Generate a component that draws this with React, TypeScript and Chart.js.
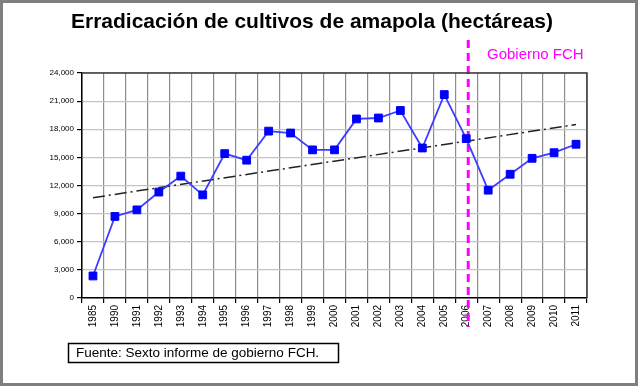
import React, { useEffect, useRef } from "react";
import { Chart, registerables } from "chart.js";

Chart.register(...registerables);

const years = [
  "1985", "1990", "1991", "1992", "1993", "1994", "1995", "1996", "1997", "1998", "1999",
  "2000", "2001", "2002", "2003", "2004", "2005", "2006", "2007", "2008", "2009", "2010", "2011",
];
const hectareas = [
  2350, 8700, 9400, 11300, 13000, 11000, 15400, 14700, 17800, 17600, 15800,
  15800, 19100, 19200, 20000, 16000, 21700, 17000, 11500, 13200, 14900, 15500, 16400,
];
const trendStart = 10700;
const trendEnd = 18500;
const yTicks = [0, 3000, 6000, 9000, 12000, 15000, 18000, 21000, 24000];
const titleText = "Erradicación de cultivos de amapola (hectáreas)";
const govLabel = "Gobierno FCH";
const govStartYear = "2006";
const sourceText = "Fuente: Sexto informe de gobierno FCH.";

const FONT = "'Liberation Sans', Arial, sans-serif";

const decorPlugin = {
  id: "decor",
  beforeDraw(chart: any) {
    const ctx = chart.ctx;
    ctx.save();
    ctx.fillStyle = "#ffffff";
    ctx.fillRect(0, 0, chart.width, chart.height);
    ctx.restore();
  },
  beforeDatasetsDraw(chart: any) {
    const ctx = chart.ctx;
    const x = chart.scales.x.getPixelForValue(years.indexOf(govStartYear)) + 2;
    ctx.save();
    ctx.strokeStyle = "#ff00ff";
    ctx.lineWidth = 3;
    ctx.setLineDash([8, 5]);
    ctx.beginPath();
    ctx.moveTo(x, 40);
    ctx.lineTo(x, 327);
    ctx.stroke();
    ctx.restore();
  },
  afterDraw(chart: any) {
    const ctx = chart.ctx;
    const a = chart.chartArea;
    ctx.save();
    ctx.strokeStyle = "#3a3a3a";
    ctx.lineWidth = 1.5;
    ctx.beginPath();
    ctx.moveTo(a.left, a.top);
    ctx.lineTo(a.right, a.top);
    ctx.lineTo(a.right, a.bottom);
    ctx.stroke();
    ctx.fillStyle = "#000000";
    ctx.font = `bold 21px ${FONT}`;
    ctx.textAlign = "center";
    ctx.textBaseline = "middle";
    ctx.fillText(titleText, 312, 22);
    ctx.fillStyle = "#ff00ff";
    ctx.font = `15px ${FONT}`;
    ctx.textAlign = "left";
    ctx.fillText(govLabel, 487, 55);
    ctx.strokeStyle = "#000000";
    ctx.lineWidth = 1.5;
    ctx.strokeRect(68.5, 343.5, 270, 19);
    ctx.fillStyle = "#000000";
    ctx.font = `13.5px ${FONT}`;
    ctx.fillText(sourceText, 76, 353.5);
    ctx.strokeStyle = "#7f7f7f";
    ctx.lineWidth = 3;
    ctx.strokeRect(1.5, 1.5, chart.width - 3, chart.height - 3);
    ctx.restore();
  },
};

export default function App() {
  const ref = useRef<HTMLCanvasElement | null>(null);
  useEffect(() => {
    if (!ref.current) return;
    const last = years.length - 1;
    const trend = years.map((_, i) => (i === 0 ? trendStart : i === last ? trendEnd : null));
    const chart = new Chart(ref.current, {
      type: "line",
      data: {
        labels: years,
        datasets: [
          {
            label: "Hectáreas",
            data: hectareas,
            borderColor: "#3c3cff",
            borderWidth: 1.8,
            backgroundColor: "#0000ff",
            pointBackgroundColor: "#0000ff",
            pointBorderColor: "#0000ff",
            pointBorderWidth: 1,
            pointStyle: "rect",
            pointRadius: 5.5,
            tension: 0,
          },
          {
            label: "Tendencia",
            data: trend,
            borderColor: "#222222",
            borderWidth: 1.5,
            borderDash: [12, 4, 2, 4],
            pointRadius: 0,
            spanGaps: true,
          },
        ],
      },
      options: {
        responsive: false,
        animation: false,
        layout: { padding: { left: 0, top: 73, right: 51, bottom: 0 } },
        plugins: {
          legend: { display: false },
          title: { display: false },
          tooltip: { enabled: false },
        },
        scales: {
          x: {
            type: "category",
            offset: true,
            grid: {
              offset: true,
              color: "#8c8c8c",
              lineWidth: 1.2,
              tickColor: "#000000",
              tickLength: 5,
              drawTicks: true,
            },
            border: { color: "#000000", width: 1.5 },
            ticks: {
              color: "#000000",
              font: { family: FONT, size: 10 },
              minRotation: 90,
              maxRotation: 90,
              autoSkip: false,
              padding: 2,
            },
            afterFit(s: any) {
              s.height = 88;
            },
          },
          y: {
            min: 0,
            max: 24000,
            grid: {
              color: "#c4c4c4",
              lineWidth: 1.2,
              tickColor: "#000000",
              tickLength: 5,
            },
            border: { color: "#000000", width: 1.5 },
            ticks: {
              color: "#000000",
              font: { family: FONT, size: 8 },
              padding: 3,
              callback: (v: any) => Number(v).toLocaleString("en-US"),
            },
            afterBuildTicks(s: any) {
              s.ticks = yTicks.map((v) => ({ value: v }));
            },
            afterFit(s: any) {
              s.width = 82;
            },
          },
        },
      },
      plugins: [decorPlugin],
    });
    return () => chart.destroy();
  }, []);
  return (
    <div style={{ position: "absolute", left: 0, top: 0, width: 638, height: 386, background: "#fff" }}>
      <canvas ref={ref} width={638} height={386} style={{ display: "block", width: 638, height: 386 }} />
    </div>
  );
}
